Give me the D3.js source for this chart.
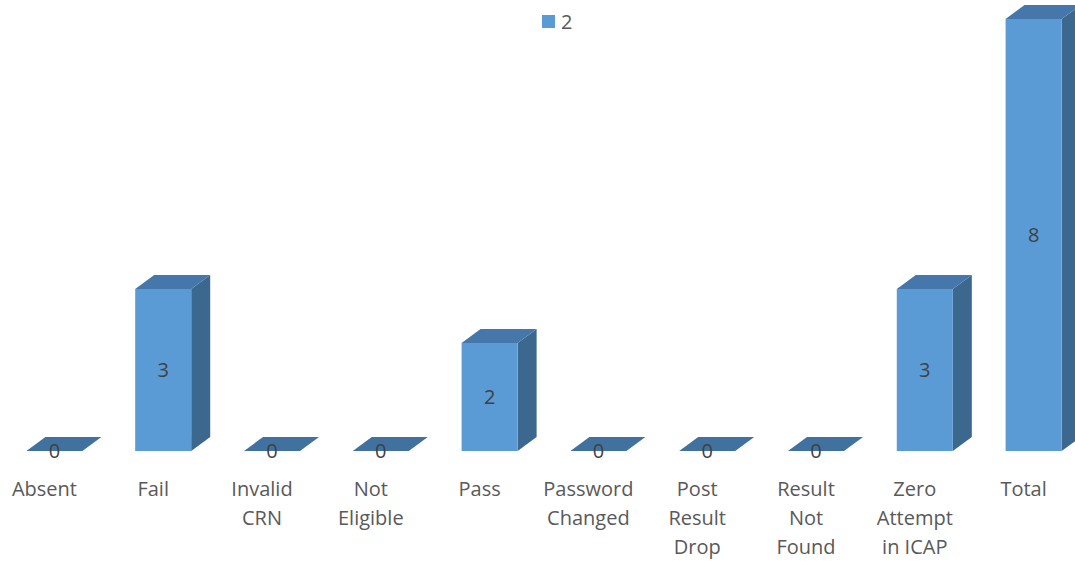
<!DOCTYPE html>
<html>
<head>
<meta charset="utf-8">
<script src="https://cdn.jsdelivr.net/npm/d3@7"></script>
<style>
body { margin: 0; background: #fff; }
svg { display: block; }
</style>
</head>
<body>
<script>
// chart data
var categories = ["Absent", "Fail", "Invalid CRN", "Not Eligible", "Pass", "Password Changed", "Post Result Drop", "Result Not Found", "Zero Attempt in ICAP", "Total"];
var labelLines = [["Absent"], ["Fail"], ["Invalid", "CRN"], ["Not", "Eligible"], ["Pass"], ["Password", "Changed"], ["Post", "Result", "Drop"], ["Result", "Not", "Found"], ["Zero", "Attempt", "in ICAP"], ["Total"]];
var values = [0, 3, 0, 0, 2, 0, 0, 0, 3, 8];
var seriesName = "2";

var width = 1075, height = 561;
var depthX = 19, depthY = -14;

var svg = d3.select("body").append("svg")
  .attr("width", width)
  .attr("height", height);

// scales
var x = d3.scaleBand()
  .domain(categories)
  .range([0, 1088])
  .paddingInner(0.485)
  .paddingOuter(0.2425);

var y = d3.scaleLinear()
  .domain([0, 8])
  .range([451, 19]);

var data = categories.map(function(c, i) { return {name: c, value: values[i], lines: labelLines[i]}; });

var bars = svg.append("g").selectAll("g")
  .data(data)
  .enter().append("g");

// side face
bars.filter(function(d) { return d.value > 0; })
  .append("path")
  .attr("fill", "#3C6890")
  .attr("d", function(d) {
    var x1 = x(d.name) + x.bandwidth(), yt = y(d.value), yb = y(0);
    return "M" + x1 + "," + yb + "L" + x1 + "," + yt
      + "L" + (x1 + depthX) + "," + (yt + depthY)
      + "L" + (x1 + depthX) + "," + (yb + depthY) + "Z";
  });

// top face
bars.append("path")
  .attr("fill", function(d) { return d.value > 0 ? "#4577AA" : "#41729F"; })
  .attr("d", function(d) {
    var x0 = x(d.name), x1 = x0 + x.bandwidth(), yt = y(d.value);
    return "M" + x0 + "," + yt + "L" + x1 + "," + yt
      + "L" + (x1 + depthX) + "," + (yt + depthY)
      + "L" + (x0 + depthX) + "," + (yt + depthY) + "Z";
  });

// front face
bars.filter(function(d) { return d.value > 0; })
  .append("rect")
  .attr("fill", "#5B9BD5")
  .attr("x", function(d) { return x(d.name); })
  .attr("y", function(d) { return y(d.value); })
  .attr("width", x.bandwidth())
  .attr("height", function(d) { return y(0) - y(d.value); });

// data labels
bars.append("text")
  .attr("x", function(d) { return x(d.name) + x.bandwidth() / 2; })
  .attr("y", function(d) { return (y(d.value) + y(0)) / 2; })
  .attr("dy", "0.35em")
  .attr("text-anchor", "middle")
  .attr("font-family", "Open Sans, sans-serif")
  .attr("font-size", 20)
  .attr("fill", "#404040")
  .text(function(d) { return d.value; });

// category labels
var labels = svg.append("g").selectAll("text")
  .data(data)
  .enter().append("text")
  .attr("text-anchor", "middle")
  .attr("font-family", "Open Sans, sans-serif")
  .attr("font-size", 20)
  .attr("fill", "#595959")
  .attr("transform", function(d) { return "translate(" + (x(d.name) + x.bandwidth() / 2 - 10) + ",0)"; });

labels.selectAll("tspan")
  .data(function(d) { return d.lines; })
  .enter().append("tspan")
  .attr("x", 0)
  .attr("y", function(d, i) { return 496 + i * 29; })
  .text(function(d) { return d; });

// legend
var legend = svg.append("g").attr("transform", "translate(542,15)");
legend.append("rect")
  .attr("width", 13)
  .attr("height", 13)
  .attr("fill", "#5B9BD5");
legend.append("text")
  .attr("x", 19)
  .attr("y", 6.5)
  .attr("dy", "0.35em")
  .attr("font-family", "Open Sans, sans-serif")
  .attr("font-size", 20)
  .attr("fill", "#595959")
  .text(seriesName);
</script>
</body>
</html>
